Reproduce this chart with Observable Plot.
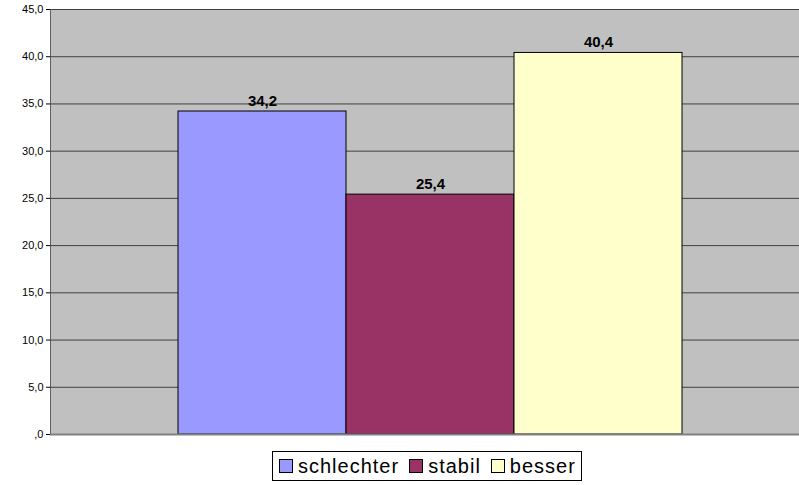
<!DOCTYPE html>
<html>
<head>
<meta charset="utf-8">
<script src="https://cdn.jsdelivr.net/npm/d3@7"></script>
<script src="https://cdn.jsdelivr.net/npm/@observablehq/plot@0.6"></script>
<style>
  html, body { margin: 0; padding: 0; background: #fff; }
  #chart { width: 799px; }
  .legend {
    display: flex; align-items: center;
    border: 1px solid #000; padding: 2px 5px 2px 6px;
    font-family: "Liberation Sans", Arial, sans-serif; font-size: 20px; letter-spacing: 1px; color: #000;
    width: max-content; margin: 6px 0 0 272px; line-height: 24px; box-sizing: content-box;
  }
  .legend .item { display: flex; align-items: center; margin-right: 10px; }
  .legend .item:last-child { margin-right: 0; }
  .legend .sw { width: 12px; height: 12px; border: 1px solid #000; margin-right: 5px; display: inline-block; }
</style>
</head>
<body>
<div id="chart"></div>
<script>
const categories = ["schlechter", "stabil", "besser"];
const values = [34.2, 25.4, 40.4];
const colors = ["#9999FF", "#993366", "#FFFFCC"];
const yTicks = [0, 5, 10, 15, 20, 25, 30, 35, 40, 45];

const data = categories.map((c, i) => ({cat: c, value: values[i], color: colors[i]}));
const fmt = d => d === 0 ? ",0" : d.toFixed(1).replace(".", ",");

const plot = Plot.plot({
  width: 799,
  height: 445,
  marginTop: 9,
  marginBottom: 11,
  marginLeft: 50,
  marginRight: 0,
  style: {fontFamily: "'Liberation Sans', Arial, sans-serif", fontSize: "11px", color: "#000", background: "#fff"},
  x: {domain: categories, range: [177, 682], padding: 0, axis: null},
  y: {domain: [0, 45], ticks: yTicks, tickFormat: fmt, tickSize: 4, tickPadding: 3, label: null, line: true},
  marks: [
    Plot.frame({fill: "#C0C0C0", stroke: null}),
    Plot.ruleY(yTicks.filter(d => d > 0), {stroke: "#404040", strokeWidth: 1}),
    Plot.barY(data, {x: "cat", y: "value", fill: "color", stroke: "#000", strokeWidth: 1}),
    Plot.ruleY([0], {stroke: "#808080", strokeWidth: 2}),
    Plot.text(data, {x: "cat", y: "value", text: d => fmt(d.value), lineAnchor: "bottom", dy: -6,
      fontWeight: "bold", fontSize: 15, fill: "#000"})
  ]
});
plot.querySelectorAll("text").forEach(t => {
  if (/^\d+,\d$/.test(t.textContent) && t.getAttribute("font-weight") === "bold") t.style.letterSpacing = "0.6px";
});
document.getElementById("chart").appendChild(plot);

const legend = document.createElement("div");
legend.className = "legend";
data.forEach(d => {
  const item = document.createElement("span");
  item.className = "item";
  const sw = document.createElement("span");
  sw.className = "sw";
  sw.style.background = d.color;
  item.appendChild(sw);
  item.appendChild(document.createTextNode(d.cat));
  legend.appendChild(item);
});
document.getElementById("chart").appendChild(legend);
</script>
</body>
</html>
